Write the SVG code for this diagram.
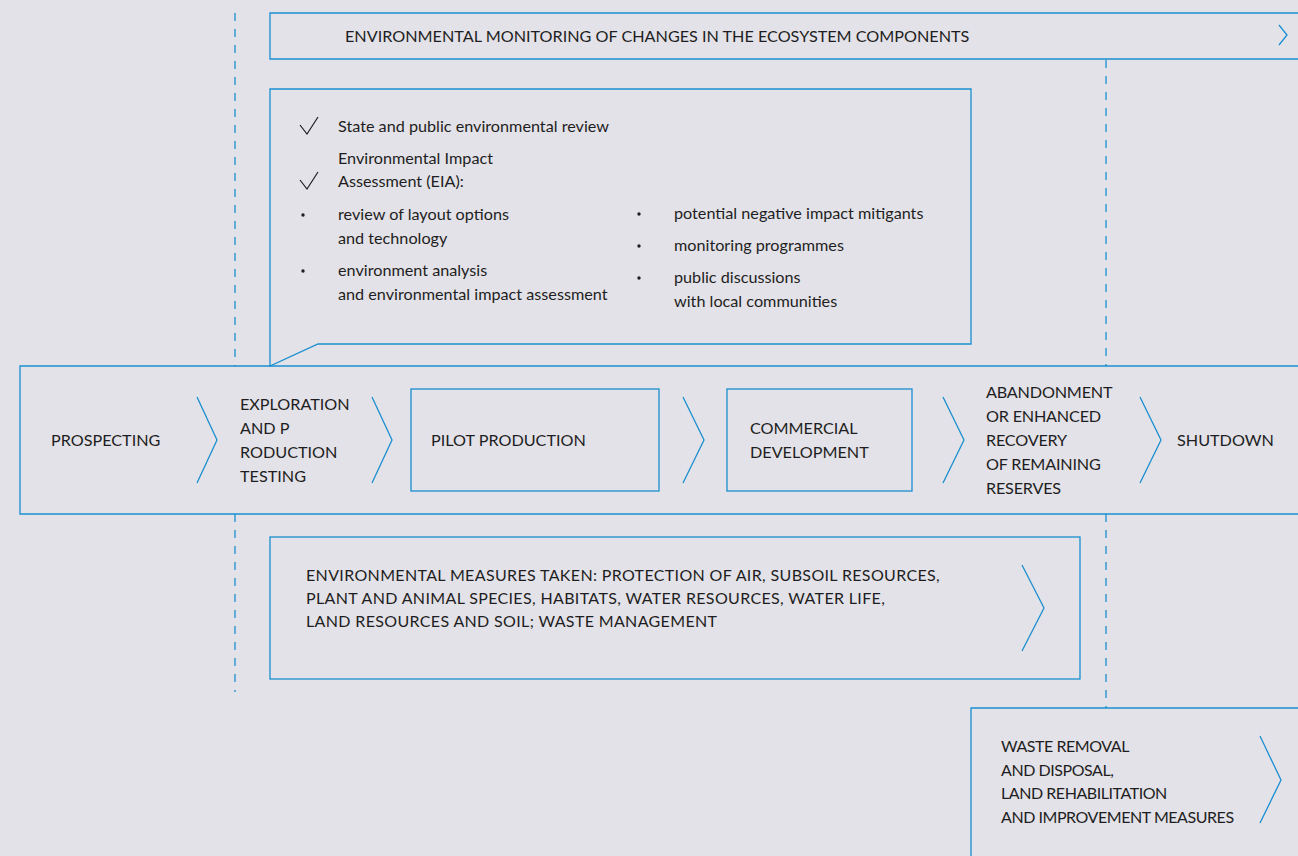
<svg xmlns="http://www.w3.org/2000/svg" width="1298" height="856" viewBox="0 0 1298 856">
<style>
.bg{fill:#e3e2e8}
.box{fill:none;stroke:#1a8fd0;stroke-width:1.3}
.chev{fill:none;stroke:#1a8fd0;stroke-width:1.3}
.dash{fill:none;stroke:#1a8fd0;stroke-width:1.3;stroke-dasharray:8,8}
.t{font-family:Lato,"Liberation Sans",sans-serif;font-size:16.2px;fill:#1e1e22}
.tm{font-family:Lato,"Liberation Sans",sans-serif;font-size:16px;fill:#1e1e22;letter-spacing:0.35px}
.tc{font-family:Lato,"Liberation Sans",sans-serif;font-size:16px;fill:#1e1e22;letter-spacing:-0.45px}
.ck{fill:none;stroke:#1e1e22;stroke-width:1.2}
</style>
<rect class="bg" x="0" y="0" width="1298" height="856"/>
<g id="connectors">
<line class="dash" x1="235" y1="13" x2="235" y2="366"/>
<line class="dash" x1="235" y1="514" x2="235" y2="692"/>
<line class="dash" x1="1106" y1="60" x2="1106" y2="366"/>
<line class="dash" x1="1106" y1="514" x2="1106" y2="708"/>
</g>
<g id="monitoring">
<path class="box" d="M1299,13 H270 V59 H1299"/>
<text class="t" x="345" y="42">ENVIRONMENTAL MONITORING OF CHANGES IN THE ECOSYSTEM COMPONENTS</text>
<polyline class="chev" points="1279,25 1287,35 1279,45"/>
</g>
<g id="eia">
<path class="box" d="M270,366 V89 H971 V344 H318 Z" fill="#e3e2e8"/>
<polyline class="ck" points="300,125 307,134 318,117"/>
<text class="t" x="338" y="132">State and public environmental review</text>
<text class="t" x="338" y="164">Environmental Impact</text>
<polyline class="ck" points="300,180 307,189 318,172"/>
<text class="t" x="338" y="187">Assessment (EIA):</text>
<circle cx="303" cy="215" r="1.7" fill="#1e1e22"/>
<text class="t" x="338" y="220">review of layout options</text>
<text class="t" x="338" y="244">and technology</text>
<circle cx="303" cy="271" r="1.7" fill="#1e1e22"/>
<text class="t" x="338" y="276">environment analysis</text>
<text class="t" x="338" y="300">and environmental impact assessment</text>
<circle cx="639" cy="214" r="1.7" fill="#1e1e22"/>
<text class="t" x="674" y="219">potential negative impact mitigants</text>
<circle cx="639" cy="246" r="1.7" fill="#1e1e22"/>
<text class="t" x="674" y="251">monitoring programmes</text>
<circle cx="639" cy="278" r="1.7" fill="#1e1e22"/>
<text class="t" x="674" y="283">public discussions</text>
<text class="t" x="674" y="307">with local communities</text>
</g>
<g id="stages">
<path class="box" d="M1299,366 H20 V514 H1299"/>
<text class="t" x="51" y="446">PROSPECTING</text>
<polyline class="chev" points="197,397 217,440 197,483"/>
<text class="t" x="240" y="410">EXPLORATION</text>
<text class="t" x="240" y="434">AND P</text>
<text class="t" x="240" y="458">RODUCTION</text>
<text class="t" x="240" y="482">TESTING</text>
<polyline class="chev" points="372,397 392,440 372,483"/>
</g>
<g id="pilot">
<rect class="box" x="411" y="389" width="248" height="102"/>
<text class="t" x="431" y="446">PILOT PRODUCTION</text>
</g>
<g id="commercial">
<polyline class="chev" points="683,397 704,440 683,483"/>
<rect class="box" x="727" y="389" width="185" height="102"/>
<text class="t" x="750" y="434">COMMERCIAL</text>
<text class="t" x="750" y="458">DEVELOPMENT</text>
</g>
<g id="abandonment">
<polyline class="chev" points="943,397 964,440 943,483"/>
<text class="t" x="986" y="398" letter-spacing="-0.2">ABANDONMENT</text>
<text class="t" x="986" y="422" letter-spacing="-0.2">OR ENHANCED</text>
<text class="t" x="986" y="446" letter-spacing="-0.2">RECOVERY</text>
<text class="t" x="986" y="470" letter-spacing="-0.2">OF REMAINING</text>
<text class="t" x="986" y="494" letter-spacing="-0.2">RESERVES</text>
</g>
<g id="shutdown">
<polyline class="chev" points="1140,397 1161,440 1140,483"/>
<text class="t" x="1177" y="446">SHUTDOWN</text>
</g>
<g id="measures">
<rect class="box" x="270" y="537" width="810" height="142"/>
<text class="tm" x="306" y="581">ENVIRONMENTAL MEASURES TAKEN: PROTECTION OF AIR, SUBSOIL RESOURCES,</text>
<text class="tm" x="306" y="604">PLANT AND ANIMAL SPECIES, HABITATS, WATER RESOURCES, WATER LIFE,</text>
<text class="tm" x="306" y="627">LAND RESOURCES AND SOIL; WASTE MANAGEMENT</text>
<polyline class="chev" points="1022,565 1044,608 1022,651"/>
</g>
<g id="waste">
<path class="box" d="M1299,708 H971 V857"/>
<text class="tc" x="1001" y="752">WASTE REMOVAL</text>
<text class="tc" x="1001" y="776">AND DISPOSAL,</text>
<text class="tc" x="1001" y="799">LAND REHABILITATION</text>
<text class="tc" x="1001" y="823">AND IMPROVEMENT MEASURES</text>
<polyline class="chev" points="1260,736 1281,780 1260,823"/>
</g>
</svg>
